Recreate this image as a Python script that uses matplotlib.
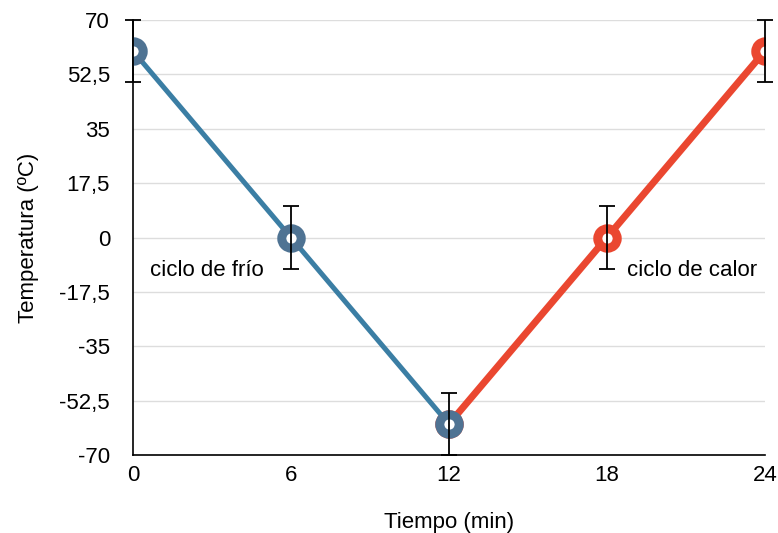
import matplotlib.pyplot as plt
import numpy as np

plt.rcParams['font.family'] = ['Liberation Sans', 'DejaVu Sans']

# datos
t_frio = [0, 6, 12]
temp_frio = [60, 0, -60]
t_calor = [12, 18, 24]
temp_calor = [-60, 0, 60]
t_todos = [0, 6, 12, 18, 24]
temp_todos = [60, 0, -60, 0, 60]
error = [10, 10, 10, 10, 10]
yticks = [-70, -52.5, -35, -17.5, 0, 17.5, 35, 52.5, 70]
ytick_labels = ['-70', '-52,5', '-35', '-17,5', '0', '17,5', '35', '52,5', '70']
xticks = [0, 6, 12, 18, 24]

azul = '#3b7ea4'
azul_marca = '#4f7393'
rojo = '#ea4730'

fig = plt.figure(figsize=(7.78, 5.33), dpi=100)
ax = fig.add_axes([0.171, 0.146, 0.812, 0.8165])

ax.plot(t_calor, temp_calor, color=rojo, lw=5, zorder=2,
        marker='o', ms=14, mew=6.5, mec=rojo, mfc='white')
ax.plot(t_frio, temp_frio, color=azul, lw=3.6, zorder=3,
        marker='o', ms=14, mew=6.5, mec=azul_marca, mfc='white')
ax.errorbar(t_todos, temp_todos, yerr=error, fmt='none', ecolor='black',
            elinewidth=1.3, capsize=6, capthick=1.3, zorder=4, clip_on=False)

ax.text(0.65, -10.5, 'ciclo de frío', fontsize=16, va='center')
ax.text(18.76, -10.5, 'ciclo de calor', fontsize=16, va='center')

ax.set_xlim(0, 24)
ax.set_ylim(-70, 70)
ax.set_xticks(xticks)
ax.set_yticks(yticks)
ax.set_yticklabels(ytick_labels)
ax.tick_params(length=0, labelsize=16)
ax.tick_params(axis='x', pad=7)
ax.tick_params(axis='y', pad=16.5)
ax.grid(axis='y', color='#dddddd', lw=1)
ax.set_axisbelow(True)
for s in ['top', 'right']:
    ax.spines[s].set_visible(False)
ax.spines['left'].set_linewidth(1.2)
ax.spines['bottom'].set_linewidth(1.2)

ax.set_xlabel('Tiempo (min)', fontsize=16, labelpad=19)
ax.set_ylabel('Temperatura (ºC)', fontsize=16, labelpad=15)

fig.savefig('out.png', dpi=100)
